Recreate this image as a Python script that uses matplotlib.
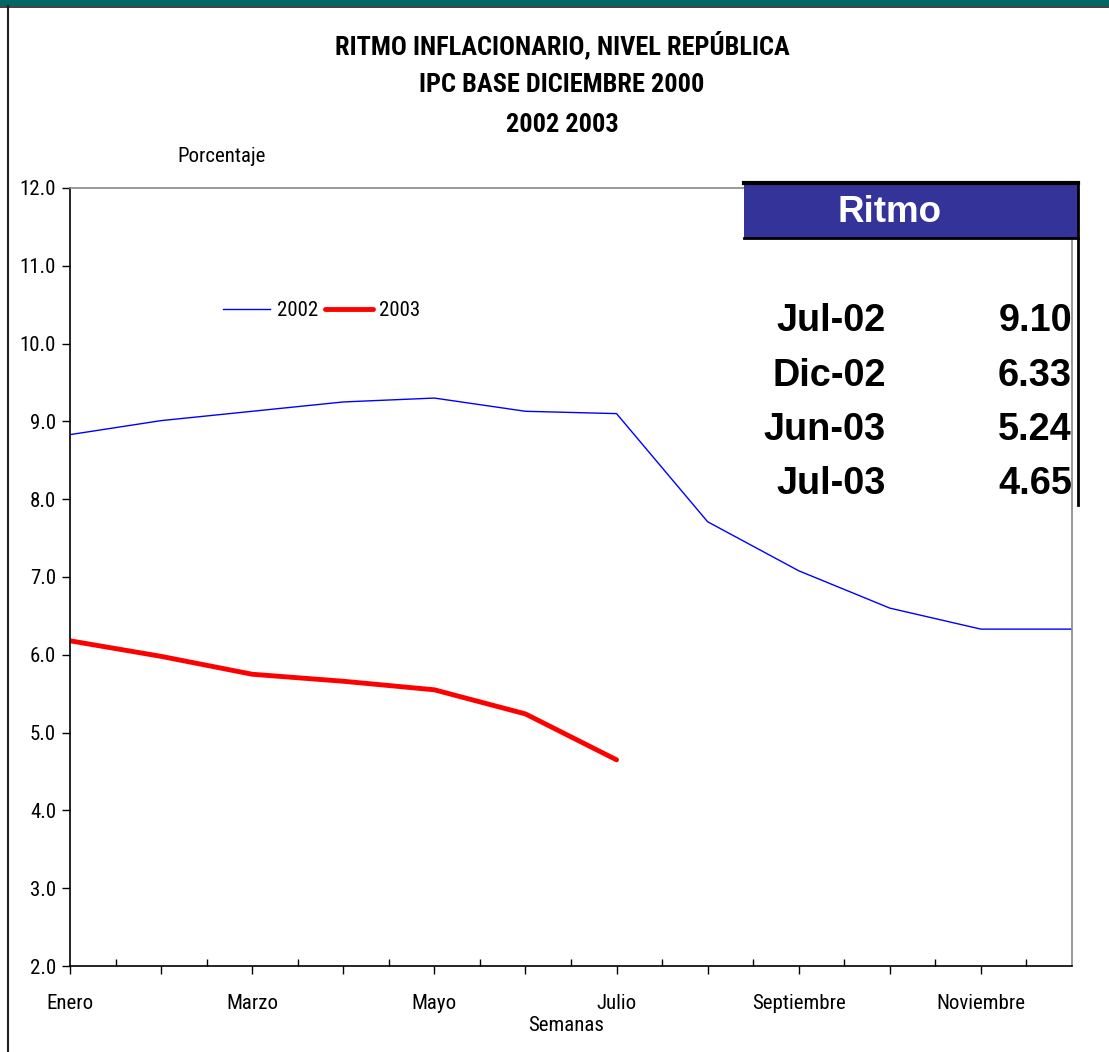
import matplotlib
matplotlib.use("Agg")
import matplotlib.pyplot as plt
from matplotlib.patches import Rectangle
from matplotlib.lines import Line2D
import numpy as np

# data
meses = ["Enero", "Febrero", "Marzo", "Abril", "Mayo", "Junio", "Julio",
         "Agosto", "Septiembre", "Octubre", "Noviembre", "Diciembre"]
ritmo_2002 = [8.83, 9.01, 9.13, 9.25, 9.30, 9.13, 9.10, 7.71, 7.08, 6.60, 6.33, 6.33]
ritmo_2003 = [6.18, 5.98, 5.75, 5.66, 5.55, 5.24, 4.65]
tabla_fechas = ["Jul-02", "Dic-02", "Jun-03", "Jul-03"]
tabla_valores = ["9.10", "6.33", "5.24", "4.65"]

narrow = ["Roboto Condensed", "DejaVu Sans"]
arial = ["Liberation Sans", "DejaVu Sans"]
fs = 15

W, H = 1109, 1052
fig = plt.figure(figsize=(W / 100, H / 100), dpi=100)
fig.patch.set_facecolor("white")

# axes placed in pixel terms
x0, x1, ybot, ytop = 70, 1072, 966, 188
ax = fig.add_axes([x0 / W, 1 - ybot / H, (x1 - x0) / W, (ybot - ytop) / H])

x = np.arange(len(meses))
ax.plot(x, ritmo_2002, color="#0000ff", lw=1.0, label="2002")
ax.plot(x[:len(ritmo_2003)], ritmo_2003, color="#ff0000", lw=3.5, label="2003",
        solid_capstyle="round")

ax.set_xlim(0, 11)
ax.set_ylim(2, 12)
ax.set_yticks(np.arange(2, 12.5, 1))
ax.set_yticklabels(["%.1f" % v for v in np.arange(2, 12.5, 1)], family=narrow, fontsize=fs)
ax.set_xticks(x[:-1])
ax.set_xticklabels([m if i % 2 == 0 else "" for i, m in enumerate(meses[:-1])],
                   family=narrow, fontsize=fs)
ax.set_xticks(np.arange(0.5, 11, 1), minor=True)
ax.tick_params(axis="x", which="major", direction="out", length=6, width=1, pad=14)
ax.tick_params(axis="x", which="minor", direction="in", length=5, width=1)
ax.tick_params(axis="y", direction="out", length=6, width=1, pad=4)

for s in ["left", "bottom"]:
    ax.spines[s].set_color("black")
    ax.spines[s].set_linewidth(1.2)
for s in ["top", "right"]:
    ax.spines[s].set_color("#888888")
    ax.spines[s].set_linewidth(1.2)

ax.text(0.107, 1.04, "Porcentaje", transform=ax.transAxes, ha="left", va="center",
        family=narrow, fontsize=fs)
ax.set_xlabel("Semanas", family=narrow, fontsize=fs, labelpad=2, x=0.495)

leg = ax.legend(loc="center", bbox_to_anchor=(0.251, 0.842), ncol=2, frameon=False,
                prop={"family": narrow, "size": fs}, handlelength=2.3,
                columnspacing=0.35, handletextpad=0.3)

# title
titulos = ["RITMO INFLACIONARIO, NIVEL REPÚBLICA", "IPC BASE DICIEMBRE 2000", "2002 2003"]
for i, t in enumerate(titulos):
    fig.text(562 / W, 1 - (45 + 40 * i) / H, t, ha="center", va="center",
             family=narrow, weight="bold", fontsize=19)

# "Ritmo" box
fig.patches.append(Rectangle((744 / W, 1 - 238 / H), (1078 - 744) / W, (238 - 183) / H,
                             transform=fig.transFigure, facecolor="#333399",
                             edgecolor="none", zorder=5))
fig.lines.append(Line2D([744 / W, 1078 / W], [1 - 183 / H, 1 - 183 / H],
                        transform=fig.transFigure, color="black", lw=3, zorder=6))
fig.lines.append(Line2D([744 / W, 1078 / W], [1 - 238 / H, 1 - 238 / H],
                        transform=fig.transFigure, color="black", lw=2, zorder=6))
fig.lines.append(Line2D([1078 / W, 1078 / W], [1 - 183 / H, 1 - 505 / H],
                        transform=fig.transFigure, color="black", lw=2, zorder=6))
fig.text(890 / W, 1 - 212 / H, "Ritmo", ha="center", va="center", color="white",
         family=arial, weight="bold", fontsize=26.5, zorder=7)
for i, (f, v) in enumerate(zip(tabla_fechas, tabla_valores)):
    yy = 1 - (321 + 54.5 * i) / H
    fig.text(886 / W, yy, f, ha="right", va="center", family=arial, weight="bold",
             fontsize=27.3, zorder=7)
    fig.text(1072 / W, yy, v, ha="right", va="center", family=arial, weight="bold",
             fontsize=27.3, zorder=7)

# frame: teal band on top and left border line
fig.patches.append(Rectangle((0, 1 - 6 / H), 1, 6 / H, transform=fig.transFigure,
                             facecolor="#006666", edgecolor="none"))
fig.lines.append(Line2D([0, 1], [1 - 6.5 / H, 1 - 6.5 / H], transform=fig.transFigure,
                        color="#202020", lw=1.2))
fig.lines.append(Line2D([8 / W, 8 / W], [0, 1 - 6 / H], transform=fig.transFigure,
                        color="#202020", lw=1.5))

fig.savefig("out.png", dpi=100)
